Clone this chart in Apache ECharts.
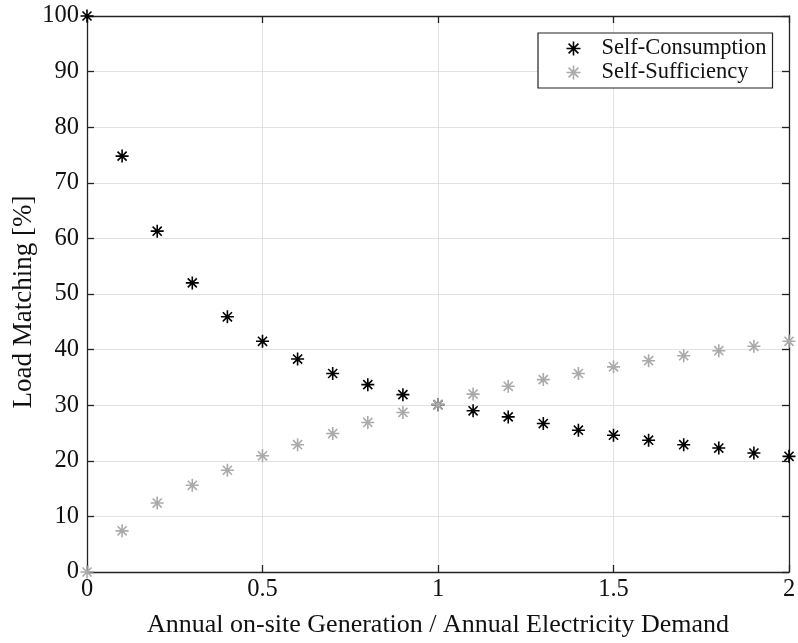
<!DOCTYPE html>
<html>
<head>
<meta charset="utf-8">
<script src="https://cdn.jsdelivr.net/npm/echarts@6/dist/echarts.min.js"></script>
<style>
  html, body { margin: 0; padding: 0; background: #fff; }
  #chart { width: 798px; height: 643px; }
</style>
</head>
<body>
<div id="chart"></div>
<script>
// Ratio of annual on-site generation to annual electricity demand
const ratio = [0, 0.1, 0.2, 0.3, 0.4, 0.5, 0.6, 0.7, 0.8, 0.9, 1.0,
               1.1, 1.2, 1.3, 1.4, 1.5, 1.6, 1.7, 1.8, 1.9, 2.0];
// Load matching indicators [%]
const selfConsumption = [100, 74.8, 61.3, 52.0, 45.9, 41.5, 38.3, 35.7, 33.7, 31.9, 30.1,
                         29.0, 27.9, 26.7, 25.5, 24.6, 23.7, 22.9, 22.3, 21.4, 20.8];
const selfSufficiency = [0, 7.4, 12.4, 15.6, 18.3, 20.9, 22.9, 24.9, 26.9, 28.7, 30.1,
                         32.0, 33.4, 34.6, 35.7, 36.9, 38.0, 38.9, 39.8, 40.6, 41.5];
const xTicks = [0, 0.5, 1, 1.5, 2];
const yTicks = [0, 10, 20, 30, 40, 50, 60, 70, 80, 90, 100];

const FONT = 'Liberation Serif';
// Asterisk marker: plus and cross strokes
const STAR = 'path://M0,-10L0,10M-10,0L10,0M-7,-7L7,7M-7,7L7,-7';

const pairs = (ys) => ratio.map((x, i) => [x, ys[i]]);

const axisCommon = {
  axisLine: { show: true, onZero: false, lineStyle: { color: '#222', width: 1.3 } },
  axisTick: { show: true, inside: true, length: 7, lineStyle: { color: '#222', width: 1.3 } },
  splitLine: { show: false },
  axisLabel: { show: false }
};

const chart = echarts.init(document.getElementById('chart'), null, { renderer: 'canvas' });
chart.setOption({
  animation: false,
  backgroundColor: '#fff',
  textStyle: { fontFamily: FONT },
  grid: { left: 87, right: 9, top: 16, bottom: 71, containLabel: false, outerBoundsMode: 'none' },
  legend: {
    left: 538, top: 33,
    orient: 'vertical',
    backgroundColor: '#fff',
    borderColor: '#222', borderWidth: 1.2, borderRadius: 0,
    padding: [4, 6, 4, 26],
    itemGap: 1,
    itemWidth: 14, itemHeight: 14,
    textStyle: { fontFamily: FONT, fontSize: 22.5, color: '#111', padding: [0, 0, 0, 16] },
    data: [
      { name: 'Self-Consumption', icon: STAR, itemStyle: { color: 'none', borderColor: '#000', borderWidth: 1.6 } },
      { name: 'Self-Sufficiency', icon: STAR, itemStyle: { color: 'none', borderColor: '#aaaaaa', borderWidth: 1.6 } }
    ]
  },
  xAxis: [
    Object.assign({}, axisCommon, {
      type: 'value', position: 'bottom', min: 0, max: 2, interval: 0.5,
      name: 'Annual on-site Generation / Annual Electricity Demand',
      nameLocation: 'middle', nameGap: 40, nameMoveOverlap: false,
      nameTextStyle: { fontFamily: FONT, fontSize: 26, color: '#111' },
      splitLine: { show: true, lineStyle: { color: '#e2e2e2', width: 1 } },
      axisLabel: {
        show: true, margin: 5, fontFamily: FONT, fontSize: 24.5, color: '#111',
        customValues: xTicks,
        formatter: (v) => String(v)
      }
    }),
    Object.assign({}, axisCommon, {
      type: 'value', position: 'top', min: 0, max: 2, interval: 0.5
    })
  ],
  yAxis: [
    Object.assign({}, axisCommon, {
      type: 'value', position: 'left', min: 0, max: 100, interval: 10,
      name: 'Load Matching [%]',
      nameLocation: 'middle', nameGap: 50, nameMoveOverlap: false,
      nameTextStyle: { fontFamily: FONT, fontSize: 27, color: '#111', padding: [0, 16, 0, 0] },
      splitLine: { show: true, lineStyle: { color: '#e2e2e2', width: 1 } },
      axisLabel: {
        show: true, margin: 8, fontFamily: FONT, fontSize: 24.5, color: '#111',
        customValues: yTicks,
        formatter: (v) => String(v)
      }
    }),
    Object.assign({}, axisCommon, {
      type: 'value', position: 'right', min: 0, max: 100, interval: 10
    })
  ],
  series: [
    {
      name: 'Self-Consumption', type: 'scatter', xAxisIndex: 0, yAxisIndex: 0,
      symbol: STAR, symbolSize: 13, clip: false,
      itemStyle: { color: 'none', borderColor: '#000', borderWidth: 1.6, opacity: 1 },
      data: pairs(selfConsumption), z: 3
    },
    {
      name: 'Self-Sufficiency', type: 'scatter', xAxisIndex: 0, yAxisIndex: 0,
      symbol: STAR, symbolSize: 13, clip: false,
      itemStyle: { color: 'none', borderColor: '#aaaaaa', borderWidth: 1.6, opacity: 1 },
      data: pairs(selfSufficiency), z: 4
    }
  ]
});
</script>
</body>
</html>
